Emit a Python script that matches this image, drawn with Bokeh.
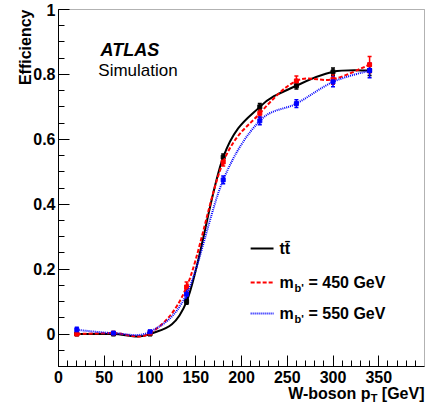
import math
from bokeh.plotting import figure
from bokeh.models import (Range1d, FixedTicker, CustomJSTickFormatter, Label,
                          Whisker, TeeHead, ColumnDataSource, BoxAnnotation)
from bokeh.embed import file_html
from bokeh.resources import INLINE

# ---- data ----
pt = [20, 60, 100, 140, 180, 220, 260, 300, 340]
eff_tt = [0.0, 0.0, 0.0, 0.10, 0.545, 0.70, 0.765, 0.808, 0.812]
err_tt = [0.003, 0.003, 0.003, 0.008, 0.010, 0.010, 0.010, 0.012, 0.015]
eff_b450 = [0.0, 0.003, 0.003, 0.145, 0.53, 0.68, 0.78, 0.785, 0.83]
err_b450 = [0.004, 0.004, 0.004, 0.015, 0.012, 0.012, 0.015, 0.015, 0.025]
eff_b550 = [0.013, 0.003, 0.007, 0.123, 0.475, 0.657, 0.71, 0.777, 0.812]
err_b550 = [0.008, 0.004, 0.004, 0.015, 0.012, 0.012, 0.012, 0.015, 0.022]

x_major = [0, 50, 100, 150, 200, 250, 300, 350]
x_minor = list(range(0, 400, 10))
y_major = [0, 0.2, 0.4, 0.6, 0.8, 1.0]
y_minor = [round(-0.1 + 0.05 * i, 2) for i in range(23)]

XMIN, XMAX = 0, 400
YMIN, YMAX = -0.1, 1.0

FONT = "Liberation Sans"

# canvas and plot-box placement (pixels)
W, H = 432, 405
L, R, T, B = 58, 424, 9, 366
sx = (R - L) / (XMAX - XMIN)
sy = (B - T) / (YMAX - YMIN)
x_rng = Range1d(XMIN - L / sx, XMAX + (W - R) / sx)
y_rng = Range1d(YMIN - (H - B) / sy, YMAX + T / sy)

p = figure(width=W, height=H, x_range=x_rng, y_range=y_rng,
           output_backend="svg", toolbar_location=None, min_border=0)
p.grid.visible = False
p.outline_line_color = None
p.background_fill_color = "white"
p.border_fill_color = "white"

p.add_layout(BoxAnnotation(left=XMIN, right=XMAX, bottom=YMIN, top=YMAX,
                           fill_alpha=0, line_color="black", line_width=1))

for ax in (p.xaxis[0], p.yaxis[0]):
    ax.axis_line_color = "black"
    ax.major_tick_in = 11
    ax.major_tick_out = 0
    ax.minor_tick_in = 6
    ax.minor_tick_out = 0
    ax.major_tick_line_color = "black"
    ax.minor_tick_line_color = "black"
    ax.major_label_text_font = FONT
    ax.major_label_text_font_style = "bold"
    ax.major_label_text_font_size = "16px"
    ax.major_label_text_color = "black"

p.xaxis.fixed_location = YMIN
p.yaxis.fixed_location = XMIN
p.xaxis.bounds = (XMIN, XMAX)
p.yaxis.bounds = (YMIN, YMAX)
p.xaxis.ticker = FixedTicker(ticks=x_major, minor_ticks=x_minor)
p.yaxis.ticker = FixedTicker(ticks=y_major, minor_ticks=y_minor)
p.yaxis.formatter = CustomJSTickFormatter(code="return tick.toFixed(1).replace(/\\.0$/, '');")
p.xaxis.major_label_standoff = 4
p.yaxis.major_label_standoff = 3


def smooth(xs, ys):
    n = len(xs)
    out = dict(x0=[], y0=[], x1=[], y1=[], cx0=[], cy0=[], cx1=[], cy1=[])
    for i in range(n - 1):
        a = i - 1 if i > 0 else i
        d = i + 2 if i + 2 < n else i + 1
        out["x0"].append(xs[i]); out["y0"].append(ys[i])
        out["x1"].append(xs[i + 1]); out["y1"].append(ys[i + 1])
        out["cx0"].append(xs[i] + (xs[i + 1] - xs[a]) / 6)
        out["cy0"].append(ys[i] + (ys[i + 1] - ys[a]) / 6)
        out["cx1"].append(xs[i + 1] - (xs[d] - xs[i]) / 6)
        out["cy1"].append(ys[i + 1] - (ys[d] - ys[i]) / 6)
    return out


series = [
    (eff_tt, err_tt, "black", "solid"),
    (eff_b450, err_b450, "#ff0000", "4 2"),
    (eff_b550, err_b550, "#0000ff", "1 1"),
]

for ys, es, col, dash in series:
    p.bezier(source=ColumnDataSource(smooth(pt, ys)), x0="x0", y0="y0", x1="x1", y1="y1",
             cx0="cx0", cy0="cy0", cx1="cx1", cy1="cy1",
             line_color=col, line_width=2, line_dash=dash)
    src = ColumnDataSource(dict(x=pt, y=ys,
                                lo=[y - e for y, e in zip(ys, es)],
                                hi=[y + e for y, e in zip(ys, es)]))
    w = Whisker(source=src, base="x", lower="lo", upper="hi", dimension="height",
                line_color=col, line_width=1.5,
                upper_head=TeeHead(size=4, line_color=col, line_width=1.5),
                lower_head=TeeHead(size=4, line_color=col, line_width=1.5))
    p.add_layout(w)
    p.scatter("x", "y", source=src, marker="square", size=4, color=col)

# ---- texts ----
def lab(x, y, text, size="16px", style="bold", align="left", baseline="alphabetic",
        angle=0.0, xo=0, yo=0):
    p.add_layout(Label(x=x, y=y, text=text, text_font=FONT, text_font_style=style,
                       text_font_size=size, text_align=align, text_baseline=baseline,
                       angle=angle, x_offset=xo, y_offset=yo, text_color="black"))

lab(46, 0.874, "ATLAS", size="18px", style="bold italic")
lab(43.5, 0.812, "Simulation", size="17px", style="normal")

# y axis title
lab(XMIN, YMAX, "Efficiency", align="right", baseline="middle", angle=math.pi / 2, xo=-33)

# x axis title: W-boson p_T [GeV]
lab(XMAX, YMIN, "[GeV]", align="right", yo=-27)
lab(XMAX, YMIN, "T", size="11px", align="right", xo=-47, yo=-31)
lab(XMAX, YMIN, "W-boson p", align="right", xo=-54, yo=-27)

# legend
leg_y = [0.2635, 0.1587, 0.0632]
leg_cols = ["black", "#ff0000", "#0000ff"]
leg_dash = ["solid", "4 2", "1 1"]
for yy, col, dash in zip(leg_y, leg_cols, leg_dash):
    p.line([210, 235], [yy, yy], line_color=col, line_width=2, line_dash=dash)

lab(241.5, leg_y[0], "tt\u0304", baseline="middle")
for yy, mass in zip(leg_y[1:], ["450", "550"]):
    lab(241.5, yy, "m", baseline="middle")
    lab(241.5, yy, "b'", size="11px", baseline="middle", xo=15, yo=-5)
    lab(241.5, yy, "= " + mass + " GeV", baseline="middle", xo=29)

open("out.html", "w").write(file_html(p, INLINE))
